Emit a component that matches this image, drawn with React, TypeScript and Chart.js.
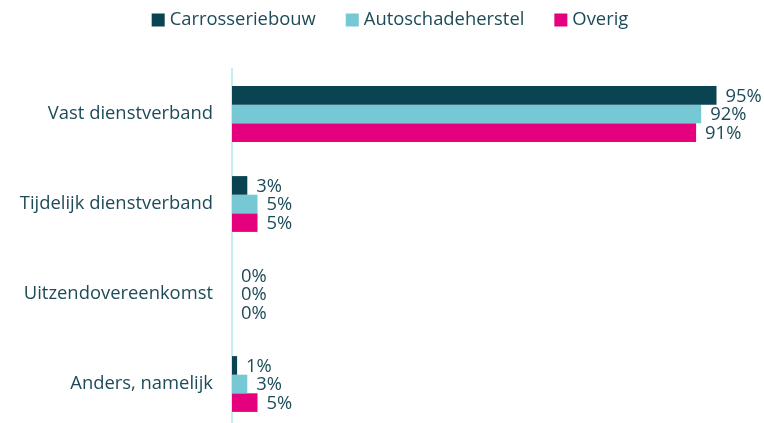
import React, { useEffect, useRef } from "react";
import { Chart, registerables } from "chart.js";

Chart.register(...registerables);

const categories = ["Vast dienstverband", "Tijdelijk dienstverband", "Uitzendovereenkomst", "Anders, namelijk"];
const seriesNames = ["Carrosseriebouw", "Autoschadeherstel", "Overig"];
const carrosseriebouw = [95, 3, 0, 1];
const autoschadeherstel = [92, 5, 0, 3];
const overig = [91, 5, 0, 5];
const colors = ["#0A4351", "#76C8D5", "#E5007D"];
const textColor = "#1D4B58";
const FONT = "'Open Sans', 'Noto Sans', sans-serif";
const FONT_SIZE = 18.4;

const valueLabels = {
  id: "valueLabels",
  afterDatasetsDraw(chart: any) {
    const ctx = chart.ctx;
    ctx.save();
    ctx.font = `${FONT_SIZE}px ${FONT}`;
    ctx.fillStyle = textColor;
    ctx.textAlign = "left";
    ctx.textBaseline = "middle";
    chart.data.datasets.forEach((ds: any, di: number) => {
      const meta = chart.getDatasetMeta(di);
      meta.data.forEach((el: any, i: number) => {
        const v = ds.data[i];
        ctx.fillText(`${v}%`, el.x + 9, el.y + 1);
      });
    });
    ctx.restore();
  },
};

const topLegend = {
  id: "topLegend",
  afterDraw(chart: any) {
    const ctx = chart.ctx;
    ctx.save();
    ctx.font = `${FONT_SIZE}px ${FONT}`;
    ctx.textBaseline = "middle";
    ctx.textAlign = "left";
    const box = 13, gapText = 5, gapItem = 30;
    const items = chart.data.datasets.map((ds: any) => ({
      text: ds.label,
      color: ds.backgroundColor,
      w: ctx.measureText(ds.label).width,
    }));
    const total = items.reduce((s: number, it: any) => s + box + gapText + it.w, 0) + gapItem * (items.length - 1);
    let x = 390 - total / 2;
    const cy = 20;
    items.forEach((it: any) => {
      ctx.fillStyle = it.color;
      ctx.fillRect(x, cy - box / 2, box, box);
      x += box + gapText;
      ctx.fillStyle = textColor;
      ctx.fillText(it.text, x, cy);
      x += it.w + gapItem;
    });
    ctx.restore();
  },
};

export default function App() {
  const ref = useRef<HTMLCanvasElement>(null);
  useEffect(() => {
    const chart = new Chart(ref.current!, {
      type: "bar",
      data: {
        labels: categories,
        datasets: [carrosseriebouw, autoschadeherstel, overig].map((d, i) => ({
          label: seriesNames[i],
          data: d,
          backgroundColor: colors[i],
          borderWidth: 0,
          categoryPercentage: 0.62,
          barPercentage: 1,
        })),
      },
      options: {
        indexAxis: "y",
        animation: false,
        responsive: false,
        layout: { padding: { top: 69, right: 22, left: 0, bottom: 1 } },
        scales: {
          x: { display: false, min: 0, max: 100 },
          y: {
            grid: { display: false },
            border: { display: true, color: "#C6EDF4", width: 2 },
            ticks: { color: textColor, font: { family: FONT, size: FONT_SIZE }, padding: 11 },
            afterFit: (s: any) => { s.width = 232; s.paddingTop = 0; s.paddingBottom = 0; },
          },
        },
        plugins: {
          tooltip: { enabled: false },
          legend: { display: false },
        },
      },
      plugins: [valueLabels, topLegend],
    });
    return () => chart.destroy();
  }, []);
  return (
    <div style={{ position: "fixed", left: 0, top: 0, width: 764, height: 430, background: "#fff" }}>
      <canvas ref={ref} width={764} height={430} style={{ display: "block" }} />
    </div>
  );
}
